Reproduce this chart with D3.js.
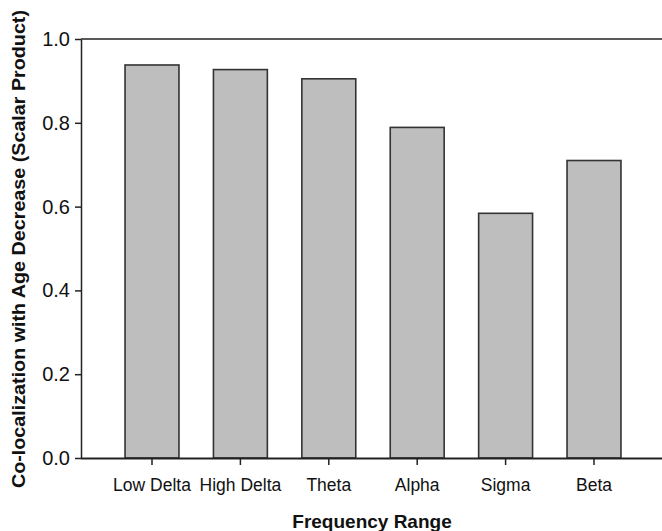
<!DOCTYPE html>
<html>
<head>
<meta charset="utf-8">
<script src="https://cdn.jsdelivr.net/npm/d3@7"></script>
<style>
  body { margin: 0; background: #fff; }
  svg { display: block; font-family: "Liberation Sans", Arial, sans-serif; }
</style>
</head>
<body>
<div id="chart"></div>
<script>
// frequency bands and their scalar products
var categories = ['Low Delta', 'High Delta', 'Theta', 'Alpha', 'Sigma', 'Beta'];
var values = [0.938, 0.927, 0.905, 0.789, 0.584, 0.710];
var yTicks = [0.0, 0.2, 0.4, 0.6, 0.8, 1.0];

var width = 662
    ,height = 531
    ,plot = { left: 81, right: 662, top: 39, bottom: 458 }
    ,lineColor = '#222'
    ,fillColor = '#bebebe';

var svg = d3.select('#chart')
    .append('svg')
    .attr('width', width)
    .attr('height', height);

var x = d3.scaleBand()
    .domain(categories)
    .range([107.8, 638.2])
    .paddingInner(0.39)
    .paddingOuter(0.195);

var y = d3.scaleLinear()
    .domain([0, 1])
    .range([plot.bottom, plot.top]);

// bars
svg.append('g')
    .selectAll('rect')
    .data(values)
    .enter()
    .append('rect')
    .attr('x', function(d, i) { return x(categories[i]); })
    .attr('y', function(d) { return y(d); })
    .attr('width', x.bandwidth())
    .attr('height', function(d) { return y(0) - y(d); })
    .style('fill', fillColor)
    .style('stroke', '#333')
    .style('stroke-width', 1.6);

// top frame line
svg.append('line')
    .attr('x1', plot.left)
    .attr('x2', plot.right)
    .attr('y1', y(1))
    .attr('y2', y(1))
    .style('stroke', lineColor)
    .style('stroke-width', 1.5);

// y axis
var yAxis = svg.append('g')
    .attr('transform', 'translate(' + plot.left + ',0)')
    .call(d3.axisLeft(y)
        .tickValues(yTicks)
        .tickFormat(d3.format('.1f'))
        .tickSize(6)
        .tickSizeOuter(0)
        .tickPadding(5));

yAxis.selectAll('text')
    .style('font-size', '20px')
    .style('fill', '#111');

// x axis
var xAxis = svg.append('g')
    .attr('transform', 'translate(0,' + plot.bottom + ')')
    .call(d3.axisBottom(x)
        .tickSize(7)
        .tickSizeOuter(0)
        .tickPadding(14));

xAxis.select('.domain')
    .attr('d', 'M' + plot.left + ',0.5H' + plot.right);

xAxis.selectAll('text')
    .style('font-size', '17.5px')
    .style('fill', '#111');

svg.selectAll('.domain, .tick line')
    .style('stroke', lineColor)
    .style('stroke-width', 1.5);

xAxis.select('.domain').style('stroke-width', 2);

// axis titles
svg.append('text')
    .attr('x', 372)
    .attr('y', 528)
    .attr('text-anchor', 'middle')
    .style('font-size', '19px')
    .style('font-weight', 'bold')
    .style('fill', '#111')
    .text('Frequency Range');

svg.append('text')
    .attr('transform', 'translate(25,249) rotate(-90)')
    .attr('text-anchor', 'middle')
    .attr('textLength', 478)
    .attr('lengthAdjust', 'spacingAndGlyphs')
    .style('font-size', '18px')
    .style('font-weight', 'bold')
    .style('fill', '#111')
    .text('Co-localization with Age Decrease (Scalar Product)');
</script>
</body>
</html>
